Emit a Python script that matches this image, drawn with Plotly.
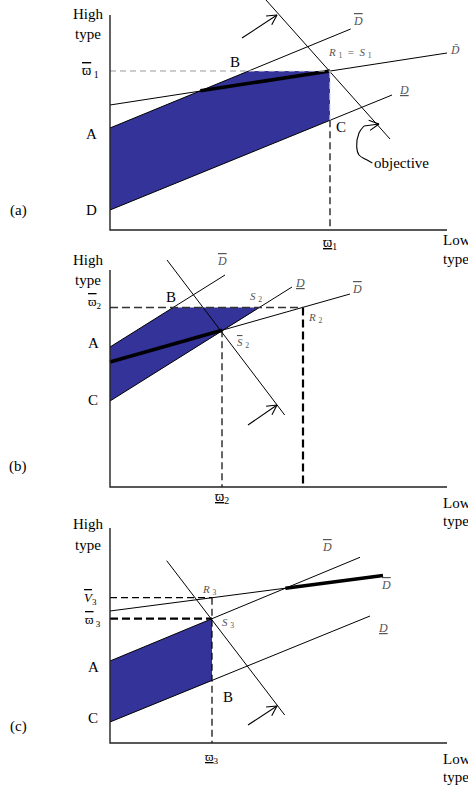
import math
import plotly.graph_objects as go

W, H = 468, 789
FILL = "#333399"
SERIF = "Liberation Serif"
TL = "\u0303"   # combining tilde
VARPI = "\u03d6"


def over(s):
    return '<span style="text-decoration:overline">' + s + '</span>'


def under(s):
    return '<span style="text-decoration:underline">' + s + '</span>'


# Panel geometry: (top px, bottom px, origin px) of each subplot band
BANDS = {"a": (0, 272, 230), "b": (248, 532, 487), "c": (508, 789, 743)}
X_LEFT = 110          # pixel x of the vertical axis
AXIS_X_LEN = 337

# ---------------- panel (a) ----------------
A_AXIS_TOP = 215
A_DBAR_X, A_DBAR_Y = [0, 240.7], [102, 201]
A_DTIL_X, A_DTIL_Y = [0, 337], [125, 177]
A_DUND_X, A_DUND_Y = [0, 282], [20, 135]
A_OBJ_X, A_OBJ_Y = [156, 280], [230, 91]
A_THICK_X, A_THICK_Y = [90.4, 220], [139.2, 159]
A_FILL_X = [0, 138.6, 220, 220, 0, 0]
A_FILL_Y = [102, 159, 159, 109.7, 20, 102]
A_HDASH_X, A_HDASH_Y = [0, 138.6], [159, 159]
A_HDASH_IN_X, A_HDASH_IN_Y = [138.6, 220], [159, 159]
A_VDASH_X, A_VDASH_Y = [220, 220], [109.7, 0]
A_VDASH_IN_X, A_VDASH_IN_Y = [220, 220], [159, 109.7]
A_ARROWS = [((132, 192), (167, 215)), ((254, 104), (269, 106))]
A_CURL_X = [254, 249, 246.7, 249, 255.7, 262.3]
A_CURL_Y = [104, 97, 83.3, 75, 70.7, 67]

# ---------------- panel (b) ----------------
B_AXIS_TOP = 217
B_UP_X, B_UP_Y = [0, 115], [140, 212]
B_MID_X, B_MID_Y = [0, 182], [86, 200]
B_LOW_X, B_LOW_Y = [0, 240], [125, 193]
B_OBJ_X, B_OBJ_Y = [57, 174.7], [227, 72]
B_THICK_X, B_THICK_Y = [0, 112], [125, 156.7]
B_FILL_X = [0, 63.1, 149.4, 0, 0]
B_FILL_Y = [140, 179.5, 179.5, 86, 140]
B_HDASH_X, B_HDASH_Y = [0, 193], [179.5, 179.5]
B_VDASH1_X, B_VDASH1_Y = [112, 112], [156.7, 0]
B_VDASH2_X, B_VDASH2_Y = [193, 193], [179.5, 0]
B_ARROWS = [((138, 62), (167, 82))]

# ---------------- panel (c) ----------------
C_AXIS_TOP = 215
C_TOP_X, C_TOP_Y = [0, 273], [132, 167.5]
C_MID_X, C_MID_Y = [0, 250], [82, 185.7]
C_LOW_X, C_LOW_Y = [0, 260], [21, 127]
C_OBJ_X, C_OBJ_Y = [56.7, 174.7], [182.3, 28]
C_THICK_X, C_THICK_Y = [175.4, 273], [154.8, 167.5]
C_FILL_X = [0, 102, 102, 0, 0]
C_FILL_Y = [82, 124.3, 62.6, 21, 82]
C_VDASH_X, C_VDASH_Y = [102, 102], [145.3, 0]
C_HDASH1_X, C_HDASH1_Y = [0, 102], [145.3, 145.3]
C_HDASH2_X, C_HDASH2_Y = [0, 102], [124.3, 124.3]
C_ARROWS = [((138, 18), (167, 37))]

AX = {"a": ("x", "y"), "b": ("x2", "y2"), "c": ("x3", "y3")}

fig = go.Figure()


def line(p, xs, ys, width=1.0, color="black", dash="solid", shape="linear"):
    xa, ya = AX[p]
    fig.add_trace(go.Scatter(x=xs, y=ys, mode="lines", xaxis=xa, yaxis=ya,
                             line=dict(width=width, color=color, dash=dash, shape=shape),
                             hoverinfo="skip", showlegend=False))


def poly(p, xs, ys):
    xa, ya = AX[p]
    fig.add_trace(go.Scatter(x=xs, y=ys, mode="lines", fill="toself", fillcolor=FILL,
                             xaxis=xa, yaxis=ya, line=dict(width=0, color=FILL),
                             hoverinfo="skip", showlegend=False))


def arrow(p, tail, tip, size=11, ang=28):
    line(p, [tail[0], tip[0]], [tail[1], tip[1]], 1.1)
    dx, dy = tip[0] - tail[0], tip[1] - tail[1]
    base = math.atan2(dy, dx) + math.pi
    xs, ys = [], []
    for s in (-1, 1):
        a = base + s * math.radians(ang)
        xs += [tip[0] + size * math.cos(a), tip[0], None]
        ys += [tip[1] + size * math.sin(a), tip[1], None]
    line(p, xs, ys, 1.1)


def text(p, x, y, s, size=15, color="black", xanchor="center", family=SERIF):
    xa, ya = AX[p]
    fig.add_annotation(x=x, y=y, xref=xa, yref=ya, text=s, showarrow=False,
                       xanchor=xanchor, yanchor="middle",
                       font=dict(family=family, size=size, color=color))


def axes(p, top):
    line(p, [0, 0, AXIS_X_LEN], [top, 0, 0], 1.4, "#222")


# ---- panel a
poly("a", A_FILL_X, A_FILL_Y)
line("a", A_DBAR_X, A_DBAR_Y)
line("a", A_DTIL_X, A_DTIL_Y)
line("a", A_DUND_X, A_DUND_Y)
line("a", A_OBJ_X, A_OBJ_Y)
line("a", A_THICK_X, A_THICK_Y, 3.5)
line("a", A_HDASH_X, A_HDASH_Y, 1.2, "#999", "6px,4px")
line("a", A_HDASH_IN_X, A_HDASH_IN_Y, 1.2, "#ddd", "6px,4px")
line("a", A_VDASH_X, A_VDASH_Y, 1.2, "black", "7px,4px")
line("a", A_VDASH_IN_X, A_VDASH_IN_Y, 1.2, "#ddd", "7px,4px")
for t, h in A_ARROWS:
    arrow("a", t, h)
line("a", A_CURL_X, A_CURL_Y, 1.1, shape="spline")
axes("a", A_AXIS_TOP)

# ---- panel b
poly("b", B_FILL_X, B_FILL_Y)
line("b", B_UP_X, B_UP_Y)
line("b", B_MID_X, B_MID_Y)
line("b", B_LOW_X, B_LOW_Y)
line("b", B_OBJ_X, B_OBJ_Y)
line("b", B_THICK_X, B_THICK_Y, 3.5)
line("b", B_HDASH_X, B_HDASH_Y, 1.5, "#333", "8px,4px")
line("b", B_VDASH1_X, B_VDASH1_Y, 1.2, "black", "7px,4px")
line("b", B_VDASH2_X, B_VDASH2_Y, 2.2, "black", "8px,4px")
for t, h in B_ARROWS:
    arrow("b", t, h)
axes("b", B_AXIS_TOP)

# ---- panel c
poly("c", C_FILL_X, C_FILL_Y)
line("c", C_TOP_X, C_TOP_Y)
line("c", C_MID_X, C_MID_Y)
line("c", C_LOW_X, C_LOW_Y)
line("c", C_OBJ_X, C_OBJ_Y)
line("c", C_THICK_X, C_THICK_Y, 3.5)
line("c", C_VDASH_X, C_VDASH_Y, 1.2, "black", "7px,4px")
line("c", C_HDASH1_X, C_HDASH1_Y, 1.2, "black", "7px,4px")
line("c", C_HDASH2_X, C_HDASH2_Y, 2.2, "black", "8px,4px")
for t, h in C_ARROWS:
    arrow("c", t, h)
axes("c", C_AXIS_TOP)

# ---- texts
G = "#555"
DB = "<i>" + over("D") + "</i>"
DU = "<i>" + under("D") + "</i>"
# panel a
text("a", -22, 216, "High")
text("a", -22, 196, "type")
text("a", 331, -10, "Low", xanchor="left")
text("a", 331, -29, "type", xanchor="left")
text("a", -20, 159, over(VARPI) + "<sub> 1</sub>", 14)
text("a", 125, 168, "B")
text("a", 240, 177, "<i>R</i> <sub>1</sub>  =  <i>S</i> <sub>1</sub>", 11, G)
text("a", 231, 103, "C")
text("a", -19, 96, "A")
text("a", -19, 20, "D")
text("a", -92, 20, "(a)")
text("a", 220, -13, under(VARPI) + "<sub>1</sub>", 14)
text("a", 248, 209, DB, 12, G)
text("a", 345, 180, "<i>D" + TL + "</i>", 11, G, family="DejaVu Serif")
text("a", 294, 140, DU, 12, G)
text("a", 262, 67, "objective", xanchor="left")

# panel b
text("b", -22, 227, "High")
text("b", -22, 207, "type")
text("b", 331, -16, "Low", xanchor="left")
text("b", 331, -34, "type", xanchor="left")
text("b", -15, 185, over(VARPI) + "<sub>2</sub>", 13)
text("b", 61, 190, "B")
text("b", -17, 144, "A")
text("b", -17, 87, "C")
text("b", -92, 21, "(b)")
text("b", 112, -10, under(VARPI) + "<sub>2</sub>", 14)
text("b", 112, 226, DB, 12, G)
text("b", 190, 204, DU, 12, G)
text("b", 146, 190, "<i>S</i> <sub>2</sub>", 11, G)
text("b", 247, 198, DB, 12, G)
text("b", 205, 169, "<i>R</i> <sub>2</sub>", 11, G)
text("b", 133, 144, "<i>" + over("S") + "</i> <sub>2</sub>", 11, G)

# panel c
text("c", -22, 219, "High")
text("c", -22, 198, "type")
text("c", 331, -16, "Low", xanchor="left")
text("c", 331, -34, "type", xanchor="left")
text("c", -20, 145, "<i>" + over("V") + "</i><sub>3</sub>", 13)
text("c", -17, 123, over(VARPI) + "<sub> 3</sub>", 13)
text("c", -17, 76, "A")
text("c", -17, 25, "C")
text("c", -92, 17, "(c)")
text("c", 102, -14, under(VARPI) + "<sub>3</sub>", 13)
text("c", 99, 153, "<i>R</i> <sub>3</sub>", 11, G)
text("c", 118, 120, "<i>S</i> <sub>3</sub>", 11, G)
text("c", 118, 46, "B")
text("c", 217, 196, DB, 12, G)
text("c", 276, 158, DB, 12, G)
text("c", 273, 115, DU, 12, G)

layout = dict(width=W, height=H, autosize=False, margin=dict(l=0, r=0, t=0, b=0),
              paper_bgcolor="white", plot_bgcolor="rgba(0,0,0,0)", showlegend=False)
hidden = dict(showgrid=False, zeroline=False, showticklabels=False, ticks="",
              showline=False, fixedrange=True)
for i, p in enumerate(["a", "b", "c"]):
    top, bot, org = BANDS[p]
    sfx = "" if i == 0 else str(i + 1)
    layout["xaxis" + sfx] = dict(domain=[0, 1], range=[-X_LEFT, W - X_LEFT],
                                 anchor="y" + sfx, **hidden)
    layout["yaxis" + sfx] = dict(domain=[1 - bot / H, 1 - top / H],
                                 range=[org - bot, org - top], anchor="x" + sfx, **hidden)
fig.update_layout(**layout)

fig.write_html("out.html", config={"displayModeBar": False},
               post_script="document.body.style.margin='0';")
